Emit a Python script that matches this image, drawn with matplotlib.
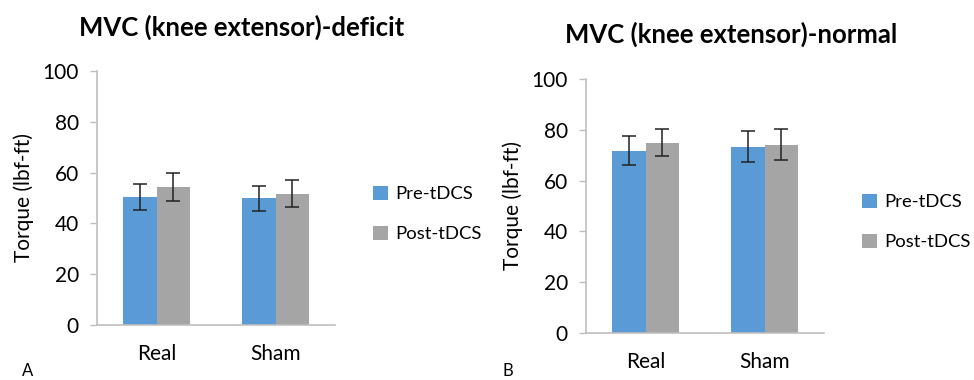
import numpy as np
import matplotlib.pyplot as plt

plt.rcParams['font.family'] = ['Lato', 'DejaVu Sans']

groups = ['Real', 'Sham']
series = ['Pre-tDCS', 'Post-tDCS']

deficit_pre = [50.4, 49.9]
deficit_post = [54.3, 51.6]
deficit_pre_err = [5.2, 5.0]
deficit_post_err = [5.4, 5.3]

normal_pre = [71.8, 73.4]
normal_post = [75.0, 74.2]
normal_pre_err = [5.7, 6.2]
normal_post_err = [5.4, 6.0]

blue = '#5B9BD5'
grey = '#A5A5A5'
axcol = '#BFBFBF'

W, H = 974, 380
fig = plt.figure(figsize=(W / 100, H / 100), dpi=100)


def panel(rect, pre, post, pre_err, post_err, title, title_x, title_y, leg_x, leg_y, letter, letter_x):
    l, r, t, b = rect
    ax = fig.add_axes([l / W, 1 - b / H, (r - l) / W, (b - t) / H])
    x = np.arange(len(groups))
    w = 0.285
    ekw = dict(elinewidth=1.1, capthick=1.1, ecolor='#222222')
    ax.bar(x - w / 2, pre, w, color=blue, label=series[0], yerr=pre_err, capsize=5.3, error_kw=ekw)
    ax.bar(x + w / 2, post, w, color=grey, label=series[1], yerr=post_err, capsize=5.3, error_kw=ekw)
    ax.set_xlim(-0.5, 1.5)
    ax.set_ylim(0, 100)
    ax.set_yticks(range(0, 101, 20))
    ax.set_xticks(x)
    ax.set_xticklabels(groups, fontsize=15)
    ax.tick_params(axis='x', length=0, pad=14)
    ax.tick_params(axis='y', length=5, width=1, color=axcol, pad=8, labelsize=15)
    for s in ['top', 'right']:
        ax.spines[s].set_visible(False)
    ax.spines['left'].set_color(axcol)
    ax.spines['bottom'].set_color(axcol)
    ax.spines['left'].set_linewidth(1.2)
    ax.spines['bottom'].set_linewidth(1.2)
    ax.set_ylabel('Torque (lbf-ft)', fontsize=15, labelpad=6)
    fig.text(title_x / W, 1 - title_y / H, title, fontsize=18.5,
             fontweight='bold', ha='center', va='center')
    ax.legend(loc='center left', bbox_to_anchor=((leg_x - l) / (r - l), (b - leg_y) / (b - t)),
              frameon=False, fontsize=13.3, handlelength=0.8, handleheight=0.8,
              labelspacing=1.3, handletextpad=0.4, borderaxespad=0, borderpad=0)
    fig.text(letter_x / W, 1 - 371 / H, letter, fontsize=12, ha='left', va='center')
    return ax


panel((97, 335, 71, 325), deficit_pre, deficit_post, deficit_pre_err, deficit_post_err,
      'MVC (knee extensor)-deficit', 242, 27, 373, 214, 'A', 22)
panel((586, 824, 79, 333), normal_pre, normal_post, normal_pre_err, normal_post_err,
      'MVC (knee extensor)-normal', 731, 34, 862, 222, 'B', 502)

fig.savefig('out.png', dpi=100)
